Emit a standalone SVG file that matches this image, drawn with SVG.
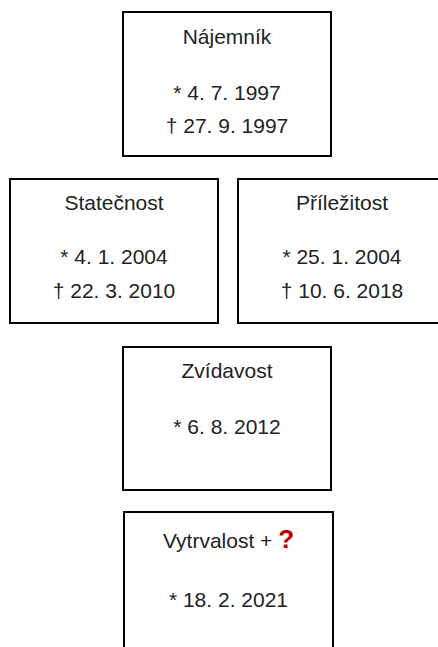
<svg xmlns="http://www.w3.org/2000/svg" width="438" height="647" viewBox="0 0 438 647">
<style>
.box{fill:#fff;stroke:#000;stroke-width:2}
.t{font-family:"Liberation Sans",Arial,sans-serif;font-size:21px;fill:#222;text-anchor:middle}
.q{fill:#c00000;font-weight:bold;font-size:26px}
</style>
<rect width="438" height="647" fill="#fff"/>
<g id="najemnik">
<rect class="box" x="123" y="12" width="208" height="144"/>
<text class="t" x="227" y="44">Nájemník</text>
<text class="t" x="227" y="100">* 4. 7. 1997</text>
<text class="t" x="227" y="133">† 27. 9. 1997</text>
</g>
<g id="statecnost">
<rect class="box" x="10" y="179" width="208" height="144"/>
<text class="t" x="114" y="210">Statečnost</text>
<text class="t" x="114" y="264">* 4. 1. 2004</text>
<text class="t" x="114" y="298">† 22. 3. 2010</text>
</g>
<g id="prilezitost">
<rect class="box" x="238" y="179" width="208" height="144"/>
<text class="t" x="342" y="210">Příležitost</text>
<text class="t" x="342" y="264">* 25. 1. 2004</text>
<text class="t" x="342" y="298">† 10. 6. 2018</text>
</g>
<g id="zvidavost">
<rect class="box" x="123" y="347" width="208" height="143"/>
<text class="t" x="227" y="378">Zvídavost</text>
<text class="t" x="227" y="434">* 6. 8. 2012</text>
</g>
<g id="vytrvalost">
<rect class="box" x="124" y="512" width="209" height="150"/>
<text class="t" x="228.5" y="548">Vytrvalost + <tspan class="q">?</tspan></text>
<text class="t" x="228.5" y="607">* 18. 2. 2021</text>
</g>
<g id="connectors"></g>
</svg>
